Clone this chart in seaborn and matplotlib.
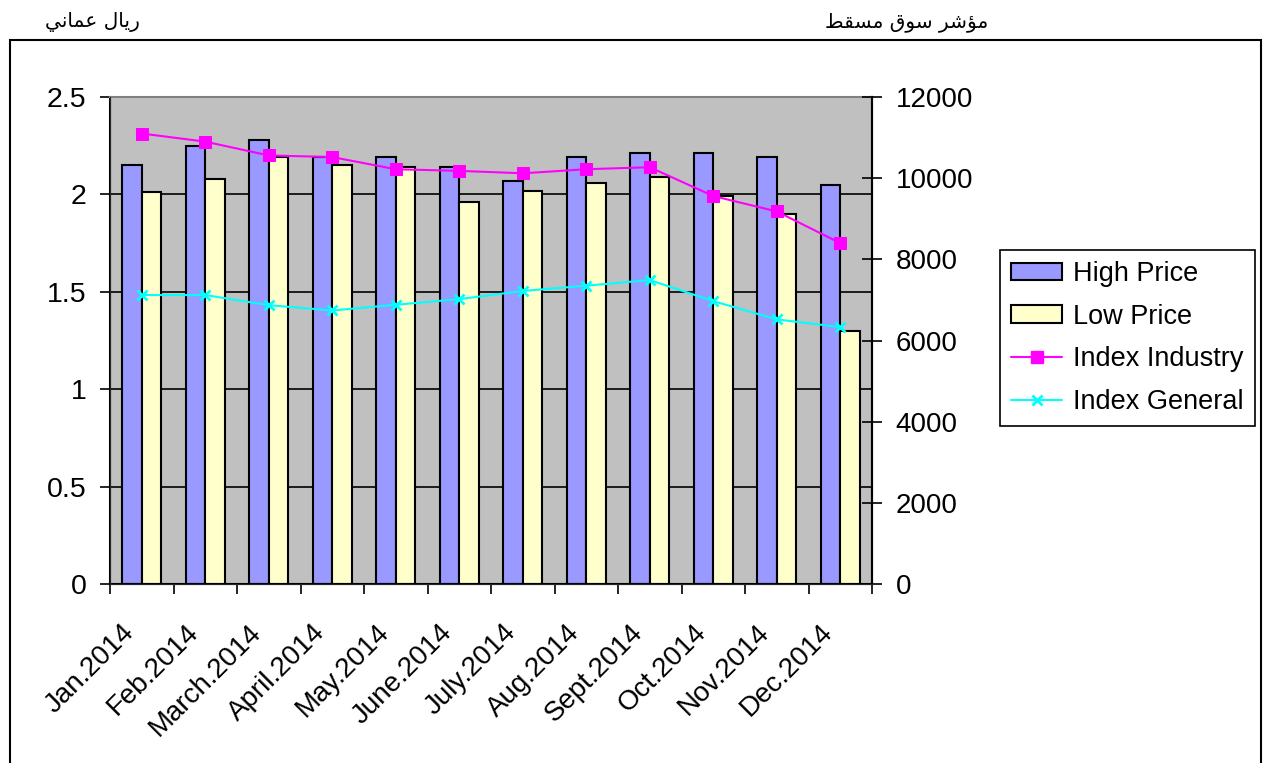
import matplotlib
matplotlib.use("Agg")
import matplotlib.pyplot as plt
import matplotlib.transforms as mtransforms
from matplotlib.lines import Line2D
from matplotlib.patches import Patch, Rectangle
from matplotlib.ticker import FuncFormatter
import numpy as np
import pandas as pd
import seaborn as sns

months = ["Jan.2014", "Feb.2014", "March.2014", "April.2014", "May.2014", "June.2014",
          "July.2014", "Aug.2014", "Sept.2014", "Oct.2014", "Nov.2014", "Dec.2014"]
high_price = [2.15, 2.25, 2.28, 2.19, 2.19, 2.14, 2.07, 2.19, 2.21, 2.21, 2.19, 2.05]
low_price = [2.01, 2.08, 2.19, 2.15, 2.14, 1.96, 2.02, 2.06, 2.09, 1.99, 1.90, 1.30]
index_industry = [11100, 10900, 10560, 10520, 10220, 10180, 10120, 10220, 10270, 9560, 9180, 8400]
index_general = [7120, 7120, 6870, 6740, 6880, 7020, 7220, 7350, 7490, 6970, 6520, 6330]

# arabic titles, pre-shaped (presentation forms, visual order) since matplotlib does no shaping
title_left = "\ufef2\ufee7\ufe8e\ufee4\ufecb \ufedd\ufe8e\ufef3\ufead"     # ريال عماني
title_right = "\ufec2\ufed8\ufeb4\ufee3 \ufed5\ufeee\ufeb3 \ufeae\ufeb7\ufe86\ufee3"  # مؤشر سوق مسقط

colors = {"High Price": "#9999FF", "Low Price": "#FFFFCC"}

df = pd.DataFrame({
    "month": months * 2,
    "price": high_price + low_price,
    "series": ["High Price"] * len(months) + ["Low Price"] * len(months),
})

sns.set_style("white")
plt.rcParams["font.family"] = ["Liberation Sans", "DejaVu Sans"]
plt.rcParams.update({"text.color": "black", "xtick.color": "black", "ytick.color": "black",
                     "axes.labelcolor": "black"})

W, H = 1263, 763
fig = plt.figure(figsize=(W / 100, H / 100), dpi=100)
ax = fig.add_axes([110 / W, 179 / H, 762 / W, 487 / H])

sns.barplot(data=df, x="month", y="price", hue="series", palette=colors, saturation=1,
            width=0.61, edgecolor="black", linewidth=1.5, errorbar=None, legend=False, ax=ax)

ax.set_facecolor("#C0C0C0")
ax.set_axisbelow(True)
ax.grid(axis="y", color="black", linewidth=1.2)
ax.grid(axis="x", visible=False)
ax.set_ylim(0, 2.5)
ax.set_yticks(np.arange(0, 2.51, 0.5))
ax.yaxis.set_major_formatter(FuncFormatter(lambda v, p: f"{v:g}"))
ax.tick_params(axis="y", left=True, direction="out", length=7, width=1.2, labelsize=20.5, pad=10)
ax.set_xlabel("")
ax.set_ylabel("")

ax.set_xticks(range(len(months)))
ax.set_xticklabels(months, rotation=45, ha="right", va="center", rotation_mode="anchor")
ax.set_xticks(np.arange(-0.5, len(months), 1), minor=True)
ax.tick_params(axis="x", which="major", length=0, labelsize=20, pad=32)
ax.tick_params(axis="x", which="minor", bottom=True, direction="out", length=7, width=1.2, color="black")
shift = mtransforms.ScaledTranslation(-11 / 100, 0, fig.dpi_scale_trans)
for lbl in ax.get_xticklabels():
    lbl.set_transform(lbl.get_transform() + shift)

for side in ["left", "bottom", "right"]:
    ax.spines[side].set_color("black")
    ax.spines[side].set_linewidth(1.5)
ax.spines["top"].set_color("#808080")
ax.spines["top"].set_linewidth(1.5)

ax2 = ax.twinx()
x = np.arange(len(months))
sns.lineplot(x=x, y=index_industry, ax=ax2, color="#FF00FF", marker="s", markersize=8,
             markeredgecolor="#FF00FF", linewidth=1.5)
sns.lineplot(x=x, y=index_general, ax=ax2, color="#00FFFF", marker="x", markersize=7,
             markeredgewidth=2, markeredgecolor="#00FFFF", linewidth=1.5)
ax2.set_ylim(0, 12000)
ax2.set_yticks(np.arange(0, 12001, 2000))
ax2.tick_params(axis="y", right=True, direction="inout", length=14, width=1.2, labelsize=20, pad=10)
ax2.grid(False)
ax2.spines["right"].set_color("black")
ax2.spines["right"].set_linewidth(1.5)
ax2.spines["top"].set_visible(False)
ax.set_xlim(-0.5, len(months) - 0.5)
ax2.set_xlim(-0.5, len(months) - 0.5)

handles = [
    Patch(facecolor=colors["High Price"], edgecolor="black", linewidth=1.5),
    Patch(facecolor=colors["Low Price"], edgecolor="black", linewidth=1.5),
    Line2D([], [], color="#FF00FF", marker="s", markersize=8, linewidth=1.5),
    Line2D([], [], color="#00FFFF", marker="x", markersize=7, markeredgewidth=2, linewidth=1.5),
]
labels = ["High Price", "Low Price", "Index Industry", "Index General"]
leg = fig.legend(handles, labels, loc="upper left", bbox_to_anchor=(1000 / W, 1 - 250 / H),
                 frameon=True, fancybox=False, edgecolor="black", framealpha=1, fontsize=19.5,
                 handlelength=1.9, handleheight=0.6, labelspacing=0.62, borderpad=0.4,
                 handletextpad=0.4, borderaxespad=0)
leg.get_frame().set_linewidth(1.2)

fig.add_artist(Rectangle((10 / W, -0.02), 1251 / W, 1 - 40 / H + 0.02, transform=fig.transFigure,
                         fill=False, edgecolor="black", linewidth=1.5))

fig.text(92 / W, 1 - 22 / H, title_left, ha="center", va="center", fontsize=14.5, family=["DejaVu Sans"])
fig.text(907 / W, 1 - 22 / H, title_right, ha="center", va="center", fontsize=14.5, family=["DejaVu Sans"])

fig.savefig("out.png", dpi=100)
plt.close(fig)
